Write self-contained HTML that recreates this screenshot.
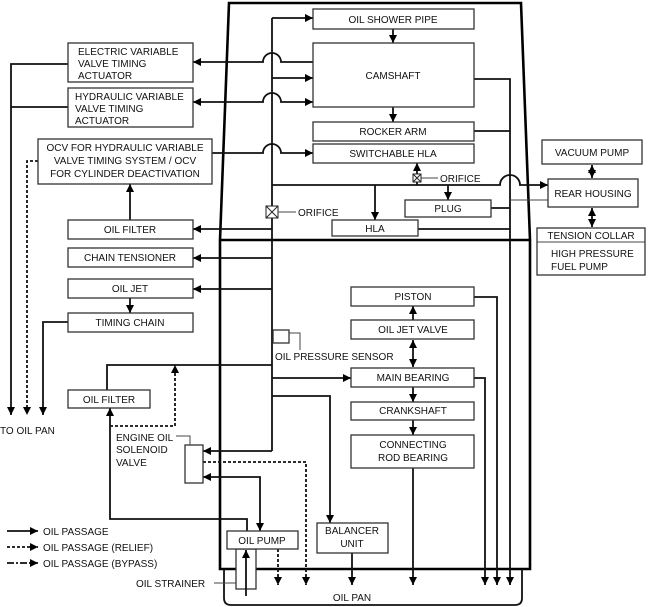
<!DOCTYPE html>
<html><head><style>
html,body{margin:0;padding:0;background:#fff}
svg{display:block}
text{font-family:"Liberation Sans",sans-serif;font-size:10px;fill:#111}
</style></head><body>
<svg width="653" height="607" viewBox="0 0 653 607" xmlns="http://www.w3.org/2000/svg">
<defs>
<marker id="a" viewBox="0 0 10 10" refX="10" refY="5" markerWidth="9" markerHeight="8" orient="auto-start-reverse" markerUnits="userSpaceOnUse"><path d="M0,0 L10,5 L0,10z" fill="#000"/></marker>
</defs>
<style>
.b{fill:#fff;stroke:#333;stroke-width:1.3}
.l{fill:none;stroke:#111;stroke-width:1.8}
.t{fill:none;stroke:#444;stroke-width:1}
.d{fill:none;stroke:#111;stroke-width:1.8;stroke-dasharray:3,2}
.w{fill:none;stroke:#000;stroke-width:2.6}
</style>
<!-- engine outline -->
<path class="w" d="M229,3 L521,3 L530,240 L530,569 L220,569 L220,240 Z"/>
<line class="w" x1="220" y1="240" x2="530" y2="240"/>
<path class="l" d="M224,569 L224,598 Q224,605 231,605 L515,605 Q522,605 522,598 L522,569"/>

<!-- main supply line -->
<path class="l" d="M272,18 L272,451"/>
<path class="l" d="M272,18 L313,18" marker-end="url(#a)"/>
<path class="l" d="M272,78 L313,78" marker-end="url(#a)"/>
<path class="l" d="M313,62 L281,62 A9,9 0 0 0 263,62 L193,62" marker-end="url(#a)"/>
<path class="l" d="M193,102 L263,102 A9,9 0 0 1 281,102 L313,102" marker-start="url(#a)" marker-end="url(#a)"/>
<path class="l" d="M212,153 L263,153 A9,9 0 0 1 281,153 L313,153" marker-end="url(#a)"/>
<path class="l" d="M272,185 L500,185 A10,10 0 0 1 520,185 L548,185" marker-end="url(#a)"/>
<path class="l" d="M272,229 L193,229" marker-end="url(#a)"/>
<path class="l" d="M272,258 L193,258" marker-end="url(#a)"/>
<path class="l" d="M272,289 L193,289" marker-end="url(#a)"/>
<path class="l" d="M375,185 L375,220" marker-end="url(#a)"/>
<path class="l" d="M448,185 L448,200" marker-end="url(#a)"/>
<path class="l" d="M417,185 L417,163" marker-end="url(#a)"/>
<rect x="413" y="174" width="8" height="8" fill="#fff" stroke="#222" stroke-width="1"/>
<path d="M413,174 L421,182 M421,174 L413,182" stroke="#222" stroke-width="1"/>
<line class="t" x1="421" y1="178" x2="438" y2="178"/>
<text x="440" y="182">ORIFICE</text>
<rect x="266" y="206" width="12" height="12" fill="#fff" stroke="#222" stroke-width="1"/>
<path d="M266,206 L278,218 M278,206 L266,218" stroke="#222" stroke-width="1"/>
<line class="t" x1="278" y1="212" x2="296" y2="212"/>
<text x="298" y="216">ORIFICE</text>

<!-- camshaft arrows -->
<path class="l" d="M393,29 L393,43" marker-end="url(#a)"/>
<path class="l" d="M393,107 L393,122" marker-end="url(#a)"/>

<!-- return lines right -->
<path class="l" d="M474,79 L510,79 L510,585" marker-end="url(#a)"/>
<path class="l" d="M474,131 L510,131"/>
<path class="l" d="M491,208 L510,208"/>
<path class="l" d="M418,229 L510,229"/>
<line class="t" x1="510" y1="200" x2="548" y2="200"/>
<path class="l" d="M474,297 L497,297 L497,585" marker-end="url(#a)"/>
<path class="l" d="M474,378 L485,378 L485,585" marker-end="url(#a)"/>

<!-- right boxes arrows -->
<path class="l" d="M592,165 L592,178" marker-start="url(#a)" marker-end="url(#a)"/>
<path class="l" d="M592,208 L592,227" marker-start="url(#a)" marker-end="url(#a)"/>

<!-- crank train -->
<path class="l" d="M413,320 L413,306" marker-end="url(#a)"/>
<path class="l" d="M413,340 L413,367" marker-start="url(#a)" marker-end="url(#a)"/>
<path class="l" d="M413,387 L413,402" marker-end="url(#a)"/>
<path class="l" d="M413,420 L413,435" marker-end="url(#a)"/>
<path class="l" d="M413,468 L413,585" marker-end="url(#a)"/>

<!-- oil pressure sensor -->
<rect x="273" y="330" width="16" height="13" class="b"/>
<path class="t" d="M289,333 L300,333 L300,350"/>
<text x="275" y="360">OIL PRESSURE SENSOR</text>

<path class="l" d="M272,378 L351,378" marker-end="url(#a)"/>
<path class="l" d="M272,396 L330,396 L330,523" marker-end="url(#a)"/>
<path class="l" d="M352,553 L352,585" marker-end="url(#a)"/>

<!-- lower left -->
<path class="l" d="M107,390 L107,365 L272,365"/>
<path class="d" d="M110,426 L175,426 L175,365" marker-end="url(#a)"/>
<path class="l" d="M247,531 L247,519 L110,519 L110,408" marker-end="url(#a)"/>
<path class="l" d="M272,451 L203,451" marker-end="url(#a)"/>
<path class="l" d="M260,531 L260,477 L203,477" marker-start="url(#a)" marker-end="url(#a)"/>
<path class="d" d="M203,462 L306,462 L306,585" marker-end="url(#a)"/>
<path class="d" d="M278,549 L278,585" marker-end="url(#a)"/>
<rect x="236" y="549" width="20" height="40" class="b"/>
<path class="l" d="M246,596 L246,550" marker-end="url(#a)"/>
<line class="t" x1="214" y1="583" x2="236" y2="583"/>
<text x="136" y="587">OIL STRAINER</text>
<rect x="185" y="445" width="18" height="38" class="b"/>
<path class="t" d="M176,436 L190,436 L190,445"/>
<text x="116" y="441">ENGINE OIL</text>
<text x="116" y="453">SOLENOID</text>
<text x="116" y="466">VALVE</text>
<text x="352" y="601" text-anchor="middle">OIL PAN</text>

<!-- left returns -->
<path class="l" d="M68,64 L11,64 L11,415" marker-end="url(#a)"/>
<path class="l" d="M68,107 L11,107"/>
<path class="d" d="M38,161 L27,161 L27,415" marker-end="url(#a)"/>
<path class="l" d="M68,322 L43,322 L43,415" marker-end="url(#a)"/>
<text x="0" y="434">TO OIL PAN</text>
<path class="l" d="M130,220 L130,184" marker-end="url(#a)"/>
<path class="l" d="M130,298 L130,313" marker-end="url(#a)"/>

<!-- legend -->
<path class="l" d="M7,531 L38,531" marker-end="url(#a)"/>
<path class="d" d="M7,547 L38,547" marker-end="url(#a)"/>
<path class="l" d="M7,563 L38,563" stroke-dasharray="7,2,2,2" marker-end="url(#a)"/>
<text x="43" y="535">OIL PASSAGE</text>
<text x="43" y="551">OIL PASSAGE (RELIEF)</text>
<text x="43" y="567">OIL PASSAGE (BYPASS)</text>

<!-- boxes -->
<rect class="b" x="313" y="9" width="161" height="20"/><text x="393" y="23" text-anchor="middle">OIL SHOWER PIPE</text>
<rect class="b" x="313" y="43" width="161" height="64"/><text x="393" y="79" text-anchor="middle">CAMSHAFT</text>
<rect class="b" x="313" y="122" width="161" height="19"/><text x="393" y="135" text-anchor="middle">ROCKER ARM</text>
<rect class="b" x="313" y="144" width="161" height="19"/><text x="393" y="157" text-anchor="middle">SWITCHABLE HLA</text>
<rect class="b" x="68" y="43" width="125" height="39"/>
<text x="78" y="55">ELECTRIC VARIABLE</text><text x="78" y="67">VALVE TIMING</text><text x="78" y="79">ACTUATOR</text>
<rect class="b" x="68" y="88" width="125" height="39"/>
<text x="75" y="100">HYDRAULIC VARIABLE</text><text x="75" y="112">VALVE TIMING</text><text x="75" y="124">ACTUATOR</text>
<rect class="b" x="38" y="139" width="174" height="45"/>
<text x="125" y="151" text-anchor="middle">OCV FOR HYDRAULIC VARIABLE</text>
<text x="125" y="164" text-anchor="middle">VALVE TIMING SYSTEM / OCV</text>
<text x="125" y="177" text-anchor="middle">FOR CYLINDER DEACTIVATION</text>
<rect class="b" x="68" y="220" width="125" height="19"/><text x="130" y="233" text-anchor="middle">OIL FILTER</text>
<rect class="b" x="68" y="248" width="125" height="19"/><text x="130" y="261" text-anchor="middle">CHAIN TENSIONER</text>
<rect class="b" x="68" y="279" width="125" height="19"/><text x="130" y="292" text-anchor="middle">OIL JET</text>
<rect class="b" x="68" y="313" width="125" height="19"/><text x="130" y="326" text-anchor="middle">TIMING CHAIN</text>
<rect class="b" x="68" y="390" width="82" height="18"/><text x="109" y="403" text-anchor="middle">OIL FILTER</text>
<rect class="b" x="227" y="531" width="71" height="18"/><text x="262" y="544" text-anchor="middle">OIL PUMP</text>
<rect class="b" x="317" y="523" width="71" height="30"/><text x="352" y="534" text-anchor="middle">BALANCER</text><text x="352" y="547" text-anchor="middle">UNIT</text>
<rect class="b" x="351" y="287" width="123" height="19"/><text x="413" y="300" text-anchor="middle">PISTON</text>
<rect class="b" x="351" y="320" width="123" height="19"/><text x="413" y="333" text-anchor="middle">OIL JET VALVE</text>
<rect class="b" x="351" y="368" width="123" height="19"/><text x="413" y="381" text-anchor="middle">MAIN BEARING</text>
<rect class="b" x="351" y="402" width="123" height="18"/><text x="413" y="414" text-anchor="middle">CRANKSHAFT</text>
<rect class="b" x="351" y="435" width="123" height="33"/><text x="413" y="448" text-anchor="middle">CONNECTING</text><text x="413" y="461" text-anchor="middle">ROD BEARING</text>
<rect class="b" x="405" y="200" width="86" height="17"/><text x="448" y="212" text-anchor="middle">PLUG</text>
<rect class="b" x="332" y="220" width="86" height="16"/><text x="375" y="232" text-anchor="middle">HLA</text>
<rect class="b" x="542" y="140" width="100" height="24"/><text x="592" y="156" text-anchor="middle">VACUUM PUMP</text>
<rect class="b" x="548" y="179" width="90" height="28"/><text x="593" y="197" text-anchor="middle">REAR HOUSING</text>
<rect class="b" x="537" y="228" width="108" height="47"/><line class="t" x1="537" y1="242" x2="645" y2="242"/>
<text x="591" y="239" text-anchor="middle">TENSION COLLAR</text>
<text x="551" y="257">HIGH PRESSURE</text><text x="551" y="270">FUEL PUMP</text>
</svg>
</body></html>
